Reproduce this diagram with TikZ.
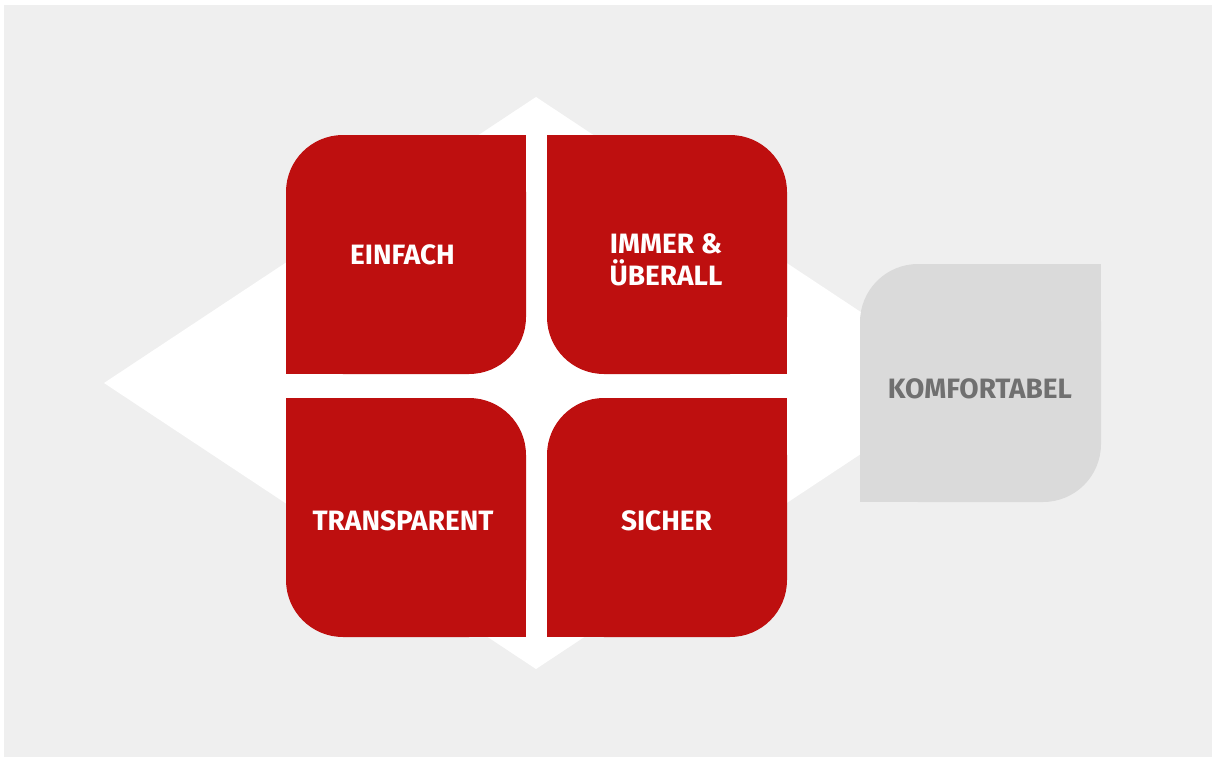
\documentclass[tikz,border=0pt]{standalone}
\usepackage{fontspec}
\setmainfont{Fira Sans}
\definecolor{bgcol}{RGB}{239,239,239}
\definecolor{tilered}{RGB}{190,15,15}
\definecolor{boxgray}{RGB}{218,218,218}
\definecolor{txtgray}{RGB}{112,112,112}
\tikzset{
  tile/.style={fill=tilered},
  graytile/.style={fill=boxgray},
  label/.style={text=white, font=\fontsize{28}{32}\selectfont\bfseries, align=center, inner sep=0pt, anchor=base},
  graylabel/.style={label, text=txtgray}
}
\begin{document}
\begin{tikzpicture}[x=1pt,y=-1pt]
\useasboundingbox (0,0) rectangle (1212,758);
\fill[bgcol] (4,5) rectangle (1212,757);
% white diamond
\fill[white] (536,97) -- (968,383) -- (536,669) -- (104,383) -- cycle;
% top-left tile: rounded TL, BR
\fill[tile, rounded corners=57pt] (286,135) rectangle (526,374);
\fill[tile] (446,135) rectangle (526,215);
\fill[tile] (286,294) rectangle (366,374);
% top-right tile: rounded TR, BL
\fill[tile, rounded corners=57pt] (547,135) rectangle (787,374);
\fill[tile] (547,135) rectangle (627,215);
\fill[tile] (707,294) rectangle (787,374);
% bottom-left tile: rounded TR, BL
\fill[tile, rounded corners=57pt] (286,398) rectangle (526,637);
\fill[tile] (286,398) rectangle (366,478);
\fill[tile] (446,557) rectangle (526,637);
% bottom-right tile: rounded TL, BR
\fill[tile, rounded corners=57pt] (547,398) rectangle (787,637);
\fill[tile] (707,398) rectangle (787,478);
\fill[tile] (547,557) rectangle (627,637);
% gray box: rounded TL, BR
\fill[graytile, rounded corners=58pt] (860,264) rectangle (1101,502);
\fill[graytile] (1021,264) rectangle (1101,344);
\fill[graytile] (860,422) rectangle (940,502);
% labels
\node[label] (einfach) at (402.5,264) {EINFACH};
\node[label] (immer) at (666,285) {IMMER \&\\ÜBERALL};
\node[label] (transparent) at (403,530) {TRANSPARENT};
\node[label] (sicher) at (666.5,530) {SICHER};
\node[graylabel] (komfortabel) at (980,398) {KOMFORTABEL};
\end{tikzpicture}
\end{document}
